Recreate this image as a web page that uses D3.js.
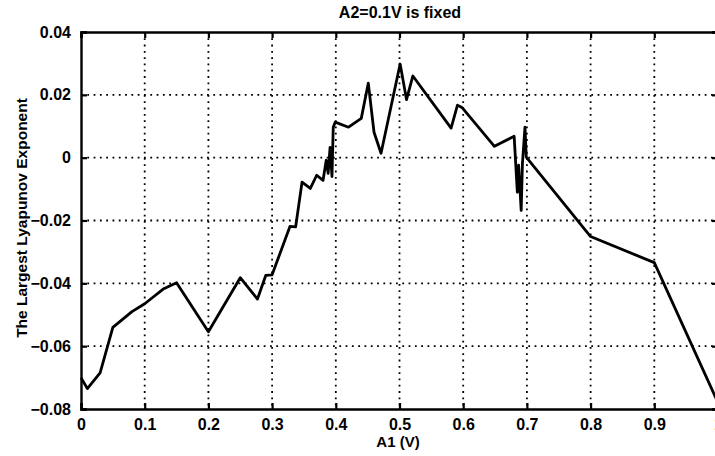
<!DOCTYPE html>
<html>
<head>
<meta charset="utf-8">
<script src="https://cdn.jsdelivr.net/npm/d3@7"></script>
<style>
  html, body { margin: 0; padding: 0; background: #fff; overflow: hidden; }
  svg { display: block; }
  text { font-family: "Liberation Sans", Arial, Helvetica, sans-serif; font-weight: bold; fill: #000; }
</style>
</head>
<body>
<div id="chart"></div>
<script>
// A1 values (V) and the largest Lyapunov exponent
const a1Values = [0, 0.01, 0.03, 0.05, 0.08, 0.1, 0.13, 0.15, 0.2, 0.25, 0.277, 0.29, 0.30,
  0.328, 0.337, 0.347, 0.36, 0.37, 0.38, 0.385, 0.388, 0.391, 0.394, 0.396, 0.399,
  0.42, 0.44, 0.451, 0.46, 0.471, 0.501, 0.511, 0.521, 0.581, 0.591, 0.598, 0.649,
  0.68, 0.685, 0.687, 0.691, 0.693, 0.697, 0.699, 0.8, 0.9, 1.0];
const lyapunovValues = [-0.070, -0.0735, -0.0685, -0.054, -0.049, -0.0465, -0.0417, -0.0398,
  -0.0554, -0.0382, -0.045, -0.0375, -0.0373, -0.0219, -0.022, -0.0078, -0.0098, -0.0056,
  -0.0072, -0.0008, -0.005, 0.0033, -0.006, 0.0097, 0.0113, 0.0097, 0.0125, 0.0237,
  0.0081, 0.0014, 0.0298, 0.0185, 0.026, 0.0094, 0.0167, 0.016, 0.0036, 0.0068, -0.011,
  -0.0024, -0.0168, -0.0018, 0.0097, 0.0002, -0.0251, -0.0334, -0.078];

const xTicks = [0, 0.1, 0.2, 0.3, 0.4, 0.5, 0.6, 0.7, 0.8, 0.9, 1];
const yTicks = [-0.08, -0.06, -0.04, -0.02, 0, 0.02, 0.04];

const title = 'A2=0.1V is fixed';
const xLabel = 'A1 (V)';
const yLabel = 'The Largest Lyapunov Exponent';

const width = 715;
const height = 456;
const margin = {top: 32, right: -3, bottom: 47, left: 81};

const svg = d3.select('#chart')
  .append('svg')
  .attr('width', width)
  .attr('height', height)
  .attr('viewBox', `0 0 ${width} ${height}`);

const xScale = d3.scaleLinear()
  .domain([0, 1])
  .range([margin.left, width - margin.right]);

const yScale = d3.scaleLinear()
  .domain([-0.08, 0.04])
  .range([height - margin.bottom, margin.top]);

const fmt = d => d === 0 ? '0' : (d < 0 ? '\u2212' : '') + (Math.abs(d) === 1 ? '1' : String(Math.abs(d)));

// dotted grid
const gridStyle = g => g
  .attr('stroke', '#000')
  .attr('stroke-width', 1.8)
  .attr('stroke-dasharray', '1.8,4.5');

svg.append('g')
  .call(gridStyle)
  .selectAll('line')
  .data(xTicks.slice(1))
  .enter()
  .append('line')
  .attr('x1', d => xScale(d)).attr('x2', d => xScale(d))
  .attr('y1', yScale(0.04)).attr('y2', yScale(-0.08));

svg.append('g')
  .call(gridStyle)
  .selectAll('line')
  .data(yTicks.slice(1, -1))
  .enter()
  .append('line')
  .attr('x1', xScale(0)).attr('x2', xScale(1))
  .attr('y1', d => yScale(d)).attr('y2', d => yScale(d));

// axes (MATLAB-style box with inward ticks)
const tick = 6;
svg.append('g')
  .attr('transform', `translate(0,${yScale(-0.08)})`)
  .call(d3.axisBottom(xScale).tickValues(xTicks).tickFormat(fmt).tickSize(-tick).tickPadding(10))
  .call(g => g.select('.domain').attr('stroke-width', 2.4));

svg.append('g')
  .attr('transform', `translate(0,${yScale(0.04)})`)
  .call(d3.axisTop(xScale).tickValues(xTicks).tickFormat('').tickSize(-tick))
  .call(g => g.select('.domain').attr('stroke-width', 2.4));

svg.append('g')
  .attr('transform', `translate(${xScale(0)},0)`)
  .call(d3.axisLeft(yScale).tickValues(yTicks).tickFormat(fmt).tickSize(-tick).tickPadding(10))
  .call(g => g.select('.domain').attr('stroke-width', 2.4));

svg.append('g')
  .attr('transform', `translate(${xScale(1)},0)`)
  .call(d3.axisRight(yScale).tickValues(yTicks).tickFormat('').tickSize(-tick))
  .call(g => g.select('.domain').attr('stroke-width', 2.4));

svg.selectAll('.tick line').attr('stroke-width', 2.2);
svg.selectAll('.tick text').style('font-size', '16px').attr('fill', '#000');

// curve
const points = a1Values.map((x, i) => [x, lyapunovValues[i]]);
svg.append('path')
  .datum(points)
  .attr('fill', 'none')
  .attr('stroke', '#000')
  .attr('stroke-width', 2.8)
  .attr('stroke-linejoin', 'round')
  .attr('d', d3.line().x(d => xScale(d[0])).y(d => yScale(d[1])));

// labels
svg.append('text')
  .attr('x', 400).attr('y', 18)
  .attr('text-anchor', 'middle')
  .style('font-size', '16px')
  .text(title);

svg.append('text')
  .attr('x', 398).attr('y', 447)
  .attr('text-anchor', 'middle')
  .style('font-size', '15px')
  .text(xLabel);

svg.append('text')
  .attr('transform', 'translate(27,218) rotate(-90)')
  .attr('text-anchor', 'middle')
  .style('font-size', '15.5px')
  .text(yLabel);
</script>
</body>
</html>
